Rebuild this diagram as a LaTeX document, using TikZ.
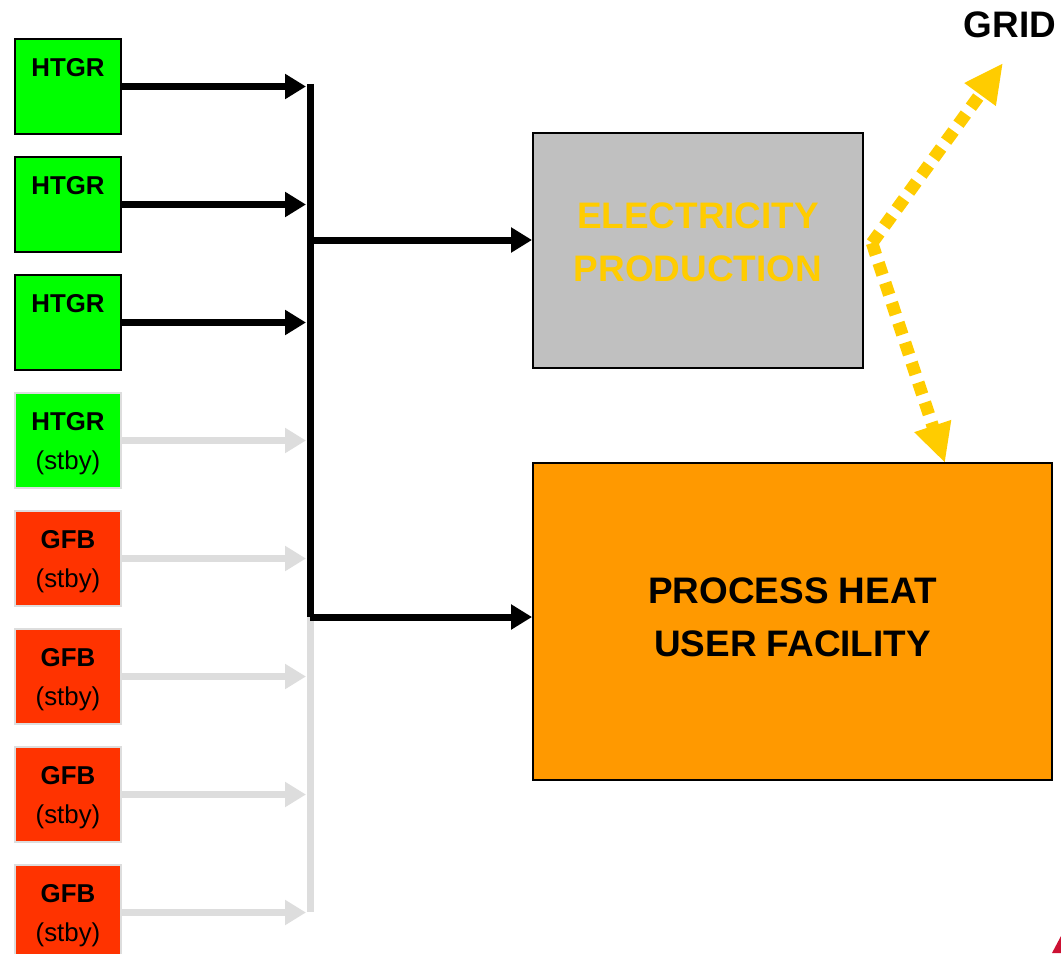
\documentclass[tikz,border=0pt]{standalone}
\usepackage{fontspec}
\setmainfont{Liberation Sans}
\usetikzlibrary{arrows.meta,positioning,calc}

\definecolor{htgrgreen}{HTML}{00FF00}
\definecolor{gfbred}{HTML}{FF3300}
\definecolor{stbygray}{HTML}{DDDDDD}
\definecolor{elecgray}{HTML}{C0C0C0}
\definecolor{heatorange}{HTML}{FF9900}
\definecolor{poweryellow}{HTML}{FFCC00}
\definecolor{cornerred}{HTML}{CC1133}

\begin{document}
\begin{tikzpicture}[x=0.02cm, y=-0.02cm,
  unit/.style={draw=black, line width=0.04cm, minimum width=2.12cm,
    minimum height=1.9cm, inner sep=0pt, align=center,
    font=\fontsize{14.7}{22.1}\selectfont},
  stby/.style={unit, draw=stbygray},
  feed/.style={line width=0.14cm, -{Triangle[length=0.42cm,width=0.48cm]}},
  idle/.style={feed, draw=stbygray, fill=stbygray},
  bus/.style={line width=0.14cm},
  plant/.style={draw=black, line width=0.04cm, align=center,
    font=\bfseries\fontsize{21}{30}\selectfont},
  power/.style={draw=poweryellow, line width=0.25cm,
    dash pattern=on 0.25cm off 0.17cm,
    -{Triangle[length=0.78cm,width=0.72cm]}}]
  \useasboundingbox (0,0) rectangle (1061,953);

  % Reactor units, operating
  \node[unit, fill=htgrgreen] (u1) at (68,86.5) {\rule{0pt}{14pt}\textbf{HTGR}\\\phantom{(stby)}};
  \node[unit, fill=htgrgreen] (u2) at (68,204.5) {\rule{0pt}{14pt}\textbf{HTGR}\\\phantom{(stby)}};
  \node[unit, fill=htgrgreen] (u3) at (68,322.5) {\rule{0pt}{14pt}\textbf{HTGR}\\\phantom{(stby)}};

  % Reactor units, standby
  \node[stby, fill=htgrgreen] (u4) at (68,440.5) {\rule{0pt}{14pt}\textbf{HTGR}\\(stby)};
  \node[stby, fill=gfbred] (u5) at (68,558.5) {\rule{0pt}{14pt}\textbf{GFB}\\(stby)};
  \node[stby, fill=gfbred] (u6) at (68,676.5) {\rule{0pt}{14pt}\textbf{GFB}\\(stby)};
  \node[stby, fill=gfbred] (u7) at (68,794.5) {\rule{0pt}{14pt}\textbf{GFB}\\(stby)};
  \node[stby, fill=gfbred] (u8) at (68,912.5) {\rule{0pt}{14pt}\textbf{GFB}\\(stby)};

  % Plants
  \node[plant, fill=elecgray, minimum width=6.6cm, minimum height=4.7cm,
    text depth=0.34cm, text=poweryellow] (elec) at (698,250.5)
    {ELECTRICITY\\PRODUCTION};
  \node[plant, fill=heatorange, minimum width=10.38cm, minimum height=6.34cm,
    text depth=0.18cm] (heat) at (792.5,621.5) {PROCESS HEAT\\USER FACILITY};
  \node[font=\bfseries\fontsize{21}{25}\selectfont] (grid) at (1010,25) {GRID};

  % Header points
  \coordinate (h1) at (306,86.5);
  \coordinate (h2) at (306,204.5);
  \coordinate (h3) at (306,322.5);
  \coordinate (h4) at (306,440.5);
  \coordinate (h5) at (306,558.5);
  \coordinate (h6) at (306,676.5);
  \coordinate (h7) at (306,794.5);
  \coordinate (h8) at (306,912.5);
  \coordinate (bustop) at (310,84);
  \coordinate (busel) at (310,240);
  \coordinate (busheat) at (310,617);
  \coordinate (busend) at (310,912);

  % Standby header
  \draw[bus, stbygray] (busheat) -- (busend);
  \draw[idle] (u4.east) -- (h4);
  \draw[idle] (u5.east) -- (h5);
  \draw[idle] (u6.east) -- (h6);
  \draw[idle] (u7.east) -- (h7);
  \draw[idle] (u8.east) -- (h8);

  % Operating header
  \draw[bus] (bustop) -- (busheat);
  \draw[feed] (u1.east) -- (h1);
  \draw[feed] (u2.east) -- (h2);
  \draw[feed] (u3.east) -- (h3);
  \draw[feed] (busel) -- (busel -| elec.west);
  \draw[feed] (busheat) -- (busheat -| heat.west);

  % Electricity out
  \coordinate (split) at (872,243);
  \coordinate (gridin) at (1003,63);
  \coordinate (heatin) at (945,463);
  \draw[power] (split) -- (gridin);
  \draw[power] (split) -- (heatin);

  \fill[cornerred] (1052,953) -- (1061,936) -- (1061,953) -- cycle;
\end{tikzpicture}
\end{document}
